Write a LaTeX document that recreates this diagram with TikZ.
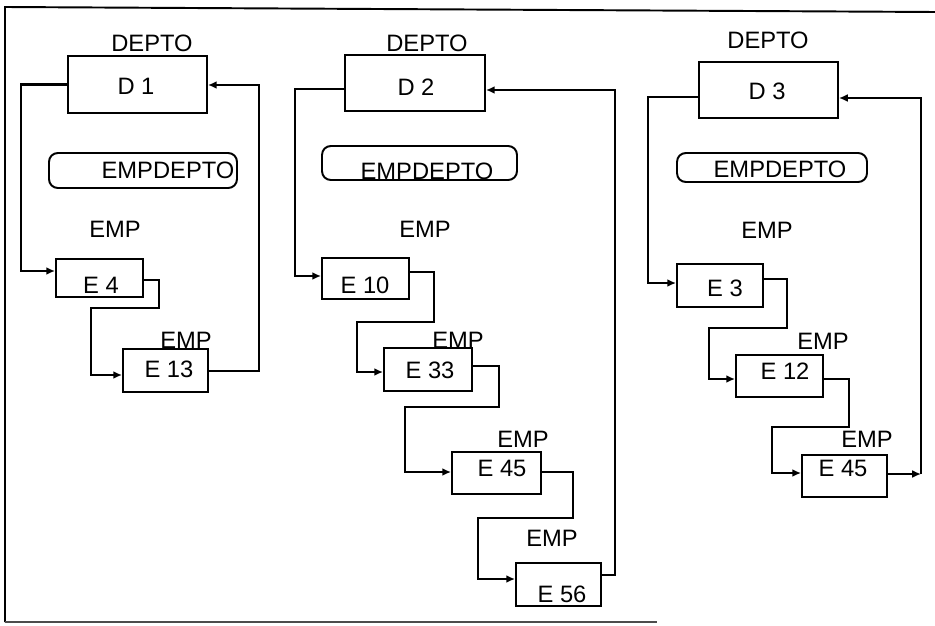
\documentclass[tikz,border=0pt]{standalone}
\usepackage{fontspec}
\setmainfont{Liberation Sans}
\usetikzlibrary{arrows.meta}
\begin{document}
\begin{tikzpicture}[x=0.02cm,y=-0.02cm,
  box/.style={draw,line width=1.1pt,inner sep=0pt},
  rbox/.style={draw,line width=1.1pt,inner sep=0pt,rounded corners=5pt},
  lbl/.style={inner sep=0pt,font=\fontsize{13.5}{16}\selectfont,text height=0.716em,text depth=0pt},
  arr/.style={line width=1.2pt,-{Latex[length=5pt,width=4.5pt]}}]
\useasboundingbox (0,0) rectangle (935,625);
% frame
\draw[line width=1.1pt] (935,12) -- (5,7) -- (5,622);
\draw[line width=0.9pt,black!70] (5,622) -- (657,622);

% ---------- column 1
\node[box,minimum width=2.78cm,minimum height=1.14cm] (d1) at (137.5,84.5) {};
\node[rbox,minimum width=3.76cm,minimum height=0.70cm] (ed1) at (143,170.5) {};
\node[box,minimum width=1.74cm,minimum height=0.76cm] (e4) at (99.5,278) {};
\node[box,minimum width=1.70cm,minimum height=0.86cm] (e13) at (165.5,370.5) {};
\node[lbl] (d1h) at (152,45) {DEPTO};
\node[lbl] (d1t) at (136,88) {D 1};
\node[lbl] (ed1t) at (168,172) {EMPDEPTO};
\node[lbl] (e4h) at (115,231) {EMP};
\node[lbl] (e4t) at (101,287) {E 4};
\node[lbl] (e13h) at (186,342) {EMP};
\node[lbl] (e13t) at (169,371) {E 13};
\draw[arr] (d1.west) -- (21,84.5) -- (21,271) -- (e4.west |- 21,271);
\draw[arr] (e4.east |- 150,280) -- (159,280) -- (159,308) -- (91,308) -- (91,375) -- (e13.west |- 91,375);
\draw[arr] (e13.east |- 230,371) -- (259,371) -- (259,85) -- (d1.east |- 259,85);

% ---------- column 2
\node[box,minimum width=2.80cm,minimum height=1.12cm] (d2) at (415,83) {};
\node[rbox,minimum width=3.90cm,minimum height=0.68cm] (ed2) at (419.5,163) {};
\node[box,minimum width=1.74cm,minimum height=0.82cm] (e10) at (365.5,278.5) {};
\node[box,minimum width=1.76cm,minimum height=0.86cm] (e33) at (428,369.5) {};
\node[box,minimum width=1.78cm,minimum height=0.84cm] (e45) at (496.5,473) {};
\node[box,minimum width=1.70cm,minimum height=0.86cm] (e56) at (558.5,584.5) {};
\node[lbl] (d2h) at (427,45) {DEPTO};
\node[lbl] (d2t) at (416,89) {D 2};
\node[lbl] (ed2t) at (427,173) {EMPDEPTO};
\node[lbl] (e10h) at (425,231) {EMP};
\node[lbl] (e10t) at (365,287) {E 10};
\node[lbl] (e33h) at (458,342) {EMP};
\node[lbl] (e33t) at (430,372) {E 33};
\node[lbl] (e45h) at (523,441) {EMP};
\node[lbl] (e45t) at (502,470) {E 45};
\node[lbl] (e56h) at (552,540) {EMP};
\node[lbl] (e56t) at (562,596) {E 56};
\draw[arr] (d2.west |- 320,89) -- (295,89) -- (295,276) -- (e10.west |- 295,276);
\draw[arr] (e10.east |- 420,272) -- (434,272) -- (434,322) -- (357,322) -- (357,372) -- (e33.west |- 357,372);
\draw[arr] (e33.east |- 480,366) -- (499,366) -- (499,407) -- (405,407) -- (405,472) -- (e45.west |- 405,472);
\draw[arr] (e45.east |- 560,472) -- (573,472) -- (573,518) -- (478,518) -- (478,579) -- (e56.west |- 478,579);
\draw[arr] (e56.east |- 610,575) -- (615,575) -- (615,90) -- (d2.east |- 615,90);

% ---------- column 3
\node[box,minimum width=2.78cm,minimum height=1.12cm] (d3) at (768.5,90) {};
\node[rbox,minimum width=3.80cm,minimum height=0.58cm] (ed3) at (772,167.5) {};
\node[box,minimum width=1.72cm,minimum height=0.86cm] (e3) at (720,285.5) {};
\node[box,minimum width=1.74cm,minimum height=0.84cm] (e12) at (779.5,376) {};
\node[box,minimum width=1.70cm,minimum height=0.84cm] (e45b) at (844.5,476) {};
\node[lbl] (d3h) at (768,42) {DEPTO};
\node[lbl] (d3t) at (767,93) {D 3};
\node[lbl] (ed3t) at (780,171) {EMPDEPTO};
\node[lbl] (e3h) at (767,232) {EMP};
\node[lbl] (e3t) at (725,290) {E 3};
\node[lbl] (e12h) at (823,343) {EMP};
\node[lbl] (e12t) at (785,373) {E 12};
\node[lbl] (e45bh) at (867,441) {EMP};
\node[lbl] (e45bt) at (843,470) {E 45};
\coordinate (j3) at (921,474);
\draw[arr] (d3.west |- 670,97) -- (648,97) -- (648,283) -- (e3.west |- 648,283);
\draw[arr] (e3.east |- 770,279) -- (787,279) -- (787,328) -- (709,328) -- (709,379) -- (e12.west |- 709,379);
\draw[arr] (e12.east |- 830,379) -- (849,379) -- (849,427) -- (772,427) -- (772,473) -- (e45b.west |- 772,473);
\draw[arr] (e45b.east |- 900,474) -- (j3);
\draw[arr] (j3) -- (921,98) -- (d3.east |- 921,98);
\end{tikzpicture}
\end{document}
